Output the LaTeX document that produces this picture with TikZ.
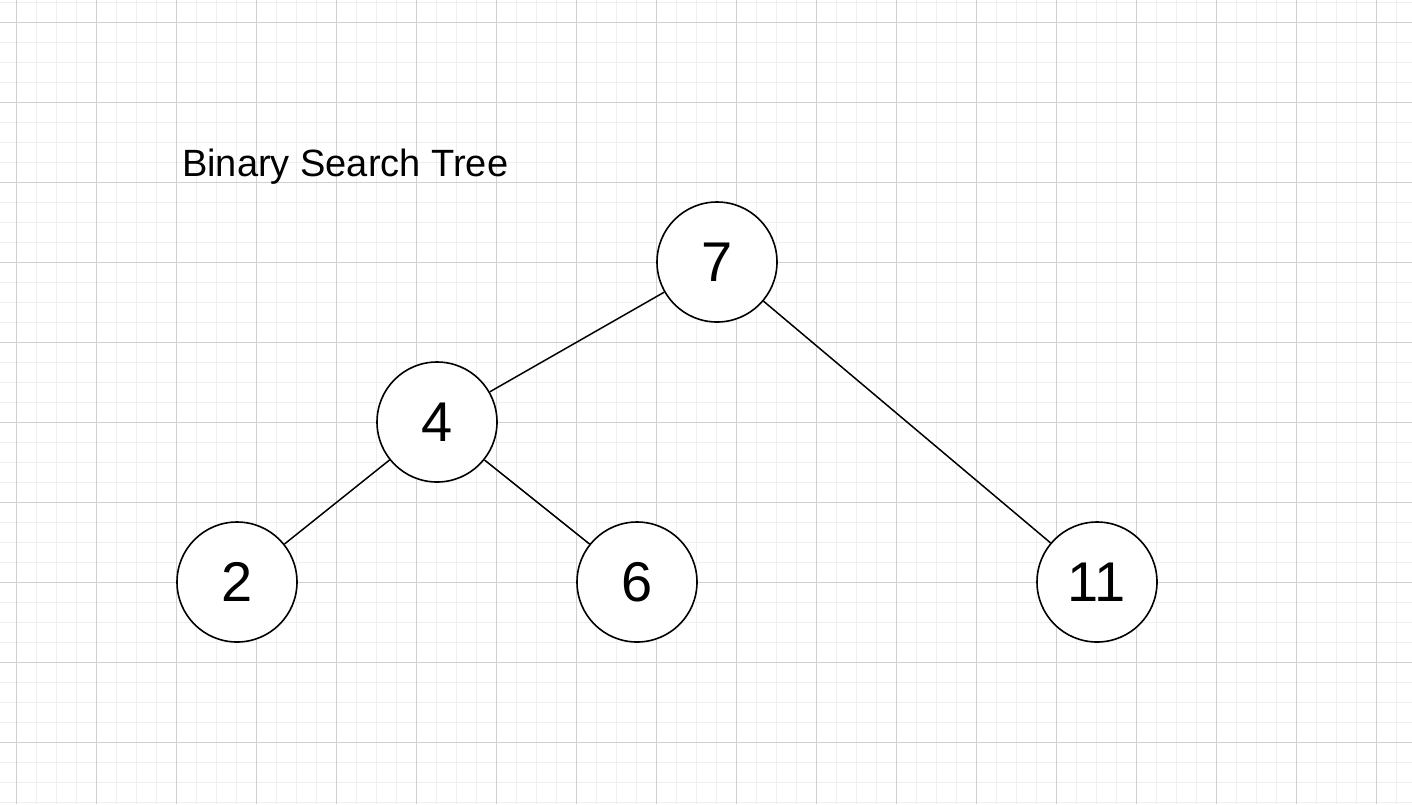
\documentclass[tikz,border=0pt]{standalone}
\usepackage{fontspec}
\setmainfont{Liberation Sans}
\definecolor{gridminor}{HTML}{EFEFEF}
\definecolor{gridmajor}{HTML}{D0D0D0}
\tikzset{
  treenode/.style={circle, draw=black, fill=white, line width=1.6pt, minimum size=120pt, inner sep=0pt, font=\fontsize{56}{60}\selectfont},
  treeedge/.style={draw=black, line width=1.5pt},
  titletext/.style={anchor=base west, inner sep=0pt, font=\fontsize{38}{44}\selectfont}
}
\begin{document}
\begin{tikzpicture}[x=1pt, y=-1pt]
\useasboundingbox (0,0) rectangle (1412,804);
\fill[white] (0,0) rectangle (1412,804);
% minor grid
\foreach \x in {16.5,36.5,...,1412} \draw[gridminor, line width=1pt] (\x,0) -- (\x,804);
\foreach \y in {2.5,22.5,...,804} \draw[gridminor, line width=1pt] (0,\y) -- (1412,\y);
% major grid
\foreach \x in {16.5,96.5,...,1412} \draw[gridmajor, line width=1pt] (\x,0) -- (\x,804);
\foreach \y in {22.5,102.5,...,804} \draw[gridmajor, line width=1pt] (0,\y) -- (1412,\y);

\node[titletext] (title) at (182,176) {Binary Search Tree};

\node[treenode] (n7) at (717,262) {7};
\node[treenode] (n4) at (437,422) {4};
\node[treenode] (n2) at (237,582) {2};
\node[treenode] (n6) at (637,582) {6};
\node[treenode] (n11) at (1097,582) {11};

\draw[treeedge] (n7) -- (n4);
\draw[treeedge] (n7) -- (n11);
\draw[treeedge] (n4) -- (n2);
\draw[treeedge] (n4) -- (n6);
\end{tikzpicture}
\end{document}
